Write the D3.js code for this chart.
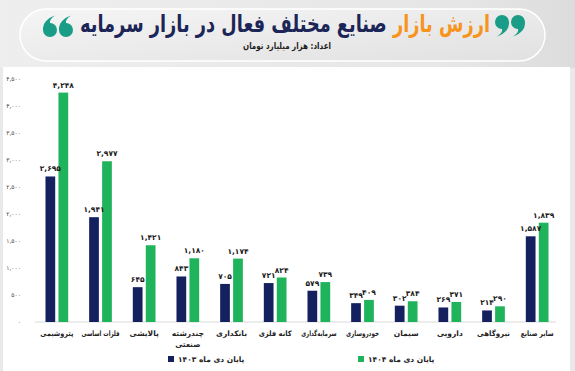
<!DOCTYPE html>
<html>
<head>
<meta charset="utf-8">
<script src="https://cdn.jsdelivr.net/npm/d3@7"></script>
<style>
  body { margin: 0; background: #e9e9e9; }
  svg { display: block; }
</style>
</head>
<body>
<script>
var categories = ["پتروشیمی", "فلزات اساسی", "پالایشی", "چندرشته صنعتی", "بانکداری", "کانه فلزی",
                  "سرمایه‌گذاری", "خودروسازی", "سیمان", "دارویی", "نیروگاهی", "سایر صنایع"];
var values1403 = [2695, 1941, 645, 843, 705, 721, 579, 349, 302, 269, 214, 1587];
var values1404 = [4248, 2977, 1421, 1180, 1174, 824, 739, 409, 384, 371, 290, 1839];
var seriesNames = ["پایان دی ماه ۱۴۰۳", "پایان دی ماه ۱۴۰۴"];
var yTicks = [0, 500, 1000, 1500, 2000, 2500, 3000, 3500, 4000, 4500];

var w = 575, h = 371;
var navy = "#15215f", green = "#1fb35b", teal = "#1a9d87";
var font = "DejaVu Sans";

// persian digits with thousands comma
function fa(n) {
    var s = d3.format(",")(n);
    return s.replace(/[0-9]/g, function(c) { return "۰۱۲۳۴۵۶۷۸۹"[+c]; });
}

// squeeze a text horizontally so it is no wider than maxW, anchored at (cx, cy)
function squeeze(t, cx, cy, maxW, minScale) {
    var len = t.node().getComputedTextLength();
    var s = Math.min(1, maxW / len);
    if (minScale) s = Math.max(s, minScale);
    t.attr("x", 0).attr("y", 0)
     .attr("transform", "translate(" + cx + "," + cy + ") scale(" + s + ",1)");
}

var svg = d3.select("body").append("svg")
    .attr("width", w)
    .attr("height", h);

var defs = svg.append("defs");
var g1 = defs.append("linearGradient").attr("id", "pill")
    .attr("x1", 0).attr("y1", 0).attr("x2", 1).attr("y2", 1);
g1.append("stop").attr("offset", "0%").attr("stop-color", "#f5f5f5");
g1.append("stop").attr("offset", "100%").attr("stop-color", "#e1e1e1");
var g2 = defs.append("linearGradient").attr("id", "bg")
    .attr("x1", 0).attr("y1", 0).attr("x2", 1).attr("y2", 0);
g2.append("stop").attr("offset", "0%").attr("stop-color", "#eeeeee");
g2.append("stop").attr("offset", "80%").attr("stop-color", "#e6e6e6");
g2.append("stop").attr("offset", "100%").attr("stop-color", "#dcdcdc");

// header
svg.append("rect").attr("x", 0).attr("y", 0).attr("width", w).attr("height", 68).attr("fill", "url(#bg)");
svg.append("rect")
    .attr("x", 20).attr("y", 9).attr("width", 525).attr("height", 52).attr("rx", 26)
    .attr("fill", "url(#pill)")
    .attr("stroke", "#ffffff").attr("stroke-width", 1.5);

var title = svg.append("text")
    .attr("text-anchor", "middle")
    .attr("direction", "rtl")
    .attr("font-family", font)
    .attr("font-weight", "bold")
    .attr("font-size", "24px");
title.append("tspan").attr("fill", "#f7941d").text("ارزش بازار ");
title.append("tspan").attr("fill", "#1b2557").text("صنایع مختلف فعال در بازار سرمایه");
squeeze(title, 285, 32, 410);

var sub = svg.append("text")
    .attr("text-anchor", "middle")
    .attr("direction", "rtl")
    .attr("font-family", font)
    .attr("font-weight", "bold")
    .attr("font-size", "9px")
    .attr("fill", "#1b1b1b")
    .text("اعداد: هزار میلیارد تومان");
squeeze(sub, 287, 49, 88);

// quote marks ("9" shape, head at origin)
var quote = "M7 0 Q7.5 10 -5 14.5 Q1 10.5 0 7 A7 7 0 1 1 7 0 Z";
var quoteMarks = [[50, 30, 180], [66, 30, 180], [502, 22, 0], [518, 22, 0]];
svg.append("g").selectAll("path")
    .data(quoteMarks)
    .enter()
    .append("path")
    .attr("d", quote)
    .attr("transform", function(d) { return "translate(" + d[0] + "," + d[1] + ") rotate(" + d[2] + ")"; })
    .attr("fill", teal);

// white card
svg.append("rect").attr("x", 3).attr("y", 67).attr("width", 567).attr("height", 304).attr("fill", "#ffffff");

var x0 = d3.scaleBand()
    .domain(categories)
    .range([35, 559])
    .paddingInner(0.48)
    .paddingOuter(0.24);

var x1 = d3.scaleBand()
    .domain([0, 1])
    .range([0, x0.bandwidth()])
    .paddingInner(0.25);

var y = d3.scaleLinear()
    .domain([0, 4500])
    .range([322, 79]);

// y axis labels
svg.append("g").selectAll("text")
    .data(yTicks)
    .enter()
    .append("text")
    .attr("x", 21)
    .attr("y", function(d) { return y(d) + 2; })
    .attr("text-anchor", "end")
    .attr("font-family", font)
    .attr("font-size", "6px")
    .attr("fill", "#444")
    .text(function(d) { return fa(d); });

// baseline
svg.append("line")
    .attr("x1", 35).attr("x2", 556)
    .attr("y1", y(0)).attr("y2", y(0))
    .attr("stroke", "#d9d9d9").attr("stroke-width", 1);

var rows = categories.map(function(c, i) {
    return { cat: c, vals: [values1403[i], values1404[i]] };
});

var groups = svg.append("g").selectAll("g")
    .data(rows)
    .enter()
    .append("g")
    .attr("transform", function(d) { return "translate(" + x0(d.cat) + ",0)"; });

groups.selectAll("rect")
    .data(function(d) { return d.vals.map(function(v, k) { return { k: k, v: v }; }); })
    .enter()
    .append("rect")
    .attr("x", function(d) { return x1(d.k); })
    .attr("y", function(d) { return y(d.v); })
    .attr("width", x1.bandwidth())
    .attr("height", function(d) { return y(0) - y(d.v); })
    .attr("fill", function(d) { return d.k == 0 ? navy : green; });

groups.selectAll("text.val")
    .data(function(d) { return d.vals.map(function(v, k) { return { k: k, v: v }; }); })
    .enter()
    .append("text")
    .attr("class", "val")
    .attr("x", function(d) { return x1(d.k) + x1.bandwidth() / 2; })
    .attr("y", function(d) { return y(d.v) - 5; })
    .attr("text-anchor", "middle")
    .attr("font-family", font)
    .attr("font-weight", "bold")
    .attr("font-size", "7.5px")
    .attr("fill", "#1a1a1a")
    .text(function(d) { return fa(d.v); });

// category labels
var catG = svg.append("g");
categories.forEach(function(d) {
    var parts = d == "چندرشته صنعتی" ? ["چندرشته", "صنعتی"] : [d];
    var cx = x0(d) + x0.bandwidth() / 2;
    parts.forEach(function(p, i) {
        var t = catG.append("text")
            .attr("text-anchor", "middle")
            .attr("direction", "rtl")
            .attr("font-family", font)
            .attr("font-weight", "bold")
            .attr("font-size", "7.5px")
            .attr("fill", "#222")
            .text(p);
        squeeze(t, cx, 336 + i * 11, 33, 0.72);
    });
});

// legend
var legendX = [168, 358];
var legend = svg.append("g").selectAll("g")
    .data(seriesNames)
    .enter()
    .append("g")
    .attr("transform", function(d, i) { return "translate(" + legendX[i] + ",362)"; });
legend.append("rect")
    .attr("x", 0).attr("y", -6)
    .attr("width", 6).attr("height", 6)
    .attr("fill", function(d, i) { return i == 0 ? navy : green; });
legend.append("text")
    .attr("x", 10).attr("y", 0)
    .attr("text-anchor", "end")
    .attr("direction", "rtl")
    .attr("font-family", font)
    .attr("font-weight", "bold")
    .attr("font-size", "7.5px")
    .attr("fill", "#222")
    .text(function(d) { return d; });
</script>
</body>
</html>
